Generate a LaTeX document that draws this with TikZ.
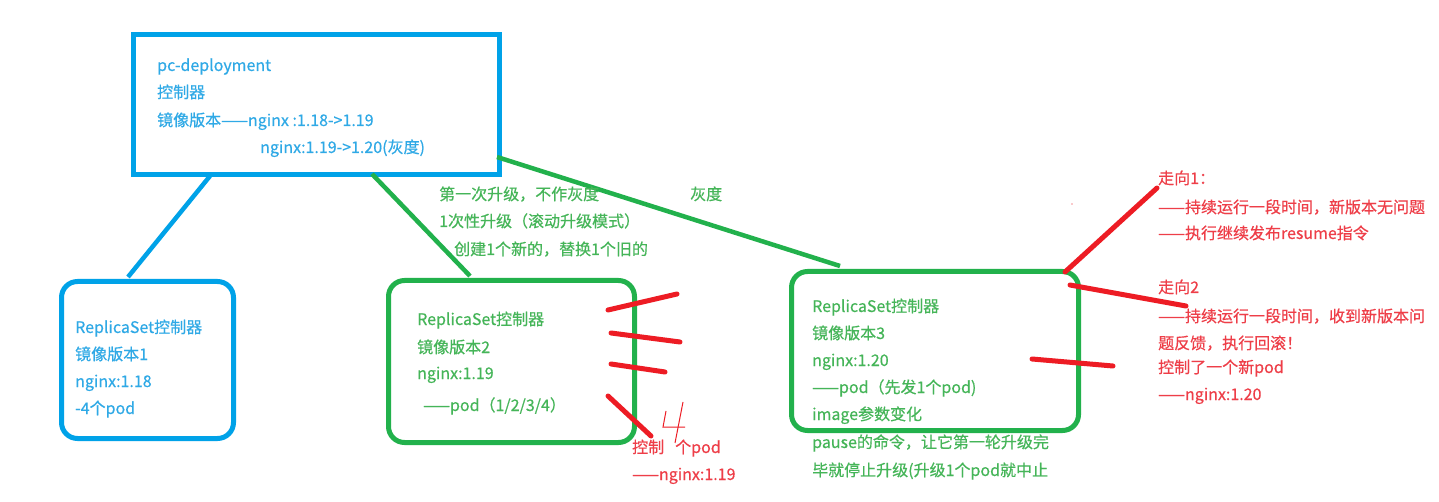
\documentclass[tikz,border=0pt]{standalone}
\usepackage{fontspec}
\setmainfont{Noto Sans CJK SC}[FakeBold=0.5]
\definecolor{bline}{HTML}{00A2E8}
\definecolor{gline}{HTML}{22B14C}
\definecolor{rline}{HTML}{ED1C24}
\definecolor{btext}{HTML}{2FA9E6}
\definecolor{gtext}{HTML}{45B558}
\definecolor{rtext}{HTML}{EE3E48}
\tikzset{
  txt/.style={anchor=base west, inner sep=0pt, font=\fontsize{16}{20}\selectfont},
  bt/.style={txt, text=btext},
  gt/.style={txt, text=gtext},
  rt/.style={txt, text=rtext},
  bbox/.style={draw=bline, line width=5pt},
  gbox/.style={draw=gline, line width=5pt, rounded corners=16pt},
  bcon/.style={draw=bline, line width=4.5pt},
  gcon/.style={draw=gline, line width=4.5pt},
  rmark/.style={draw=rline, line width=5pt, line cap=round},
  rthin/.style={draw=rline, line width=1pt}
}
\begin{document}
\begin{tikzpicture}[x=1pt,y=-1pt]
\useasboundingbox[fill=white] (0,0) rectangle (1439,502);
% boxes
\node[bbox, minimum width=366pt, minimum height=140pt, anchor=north west, inner sep=0pt] (top) at (131,32) {};
\node[bbox, rounded corners=16pt, minimum width=172pt, minimum height=157pt, anchor=north west, inner sep=0pt] (rs1) at (59,279) {};
\node[gbox, minimum width=246pt, minimum height=162pt, anchor=north west, inner sep=0pt] (rs2) at (386,278) {};
\node[gbox, minimum width=287pt, minimum height=159pt, anchor=north west, inner sep=0pt] (rs3) at (789,269) {};
% connector end points
\coordinate (t1) at (210,176);
\coordinate (l1) at (128,277);
\coordinate (t2) at (372,174);
\coordinate (m2) at (470,276);
\coordinate (t3) at (497,157);
\coordinate (r3) at (840,266);
\draw[bcon] (t1) -- (l1);
\draw[gcon] (t2) -- (m2);
\draw[gcon] (t3) -- (r3);
% top box text
\node[bt] (tt1) at (157,71) {pc-deployment};
\node[bt] (tt2) at (157,98) {控制器};
\node[bt] (tt3) at (157,126) {镜像版本——nginx :1.18->1.19};
\node[bt] (tt4) at (260,153) {nginx:1.19->1.20(灰度)};
% left box text
\node[bt] (l1t) at (75,333) {ReplicaSet控制器};
\node[bt] (l2t) at (75,360) {镜像版本1};
\node[bt] (l3t) at (75,387) {nginx:1.18};
\node[bt] (l4t) at (75,414) {-4个pod};
% middle annotations
\node[gt] (a1) at (439,200) {第一次升级，不作灰度};
\node[gt] (a2) at (439,227) {1次性升级（滚动升级模式）};
\node[gt] (a3) at (454,255) {创建1个新的，替换1个旧的};
\node[gt] (a4) at (690,200) {灰度};
% middle box text
\node[gt] (m1t) at (417,325) {ReplicaSet控制器};
\node[gt] (m2t) at (417,353) {镜像版本2};
\node[gt] (m3t) at (417,379) {nginx:1.19};
\node[gt] (m4t) at (423,411) {——pod（1/2/3/4）};
% right box text
\node[gt] (r1t) at (812,312) {ReplicaSet控制器};
\node[gt] (r2t) at (812,339) {镜像版本3};
\node[gt] (r3t) at (812,366) {nginx:1.20};
\node[gt] (r4t) at (812,393) {——pod（先发1个pod)};
\node[gt] (r5t) at (812,420) {image参数变化};
\node[gt] (r6t) at (812,448) {pause的命令，让它第一轮升级完};
\node[gt] (r7t) at (812,476) {毕就停止升级(升级1个pod就中止};
% red marks middle
\coordinate (p1a) at (608,310); \coordinate (p1b) at (677,294);
\coordinate (p2a) at (611,333); \coordinate (p2b) at (680,342);
\coordinate (p3a) at (611,364); \coordinate (p3b) at (665,372);
\coordinate (p4a) at (608,396); \coordinate (p4b) at (651,436);
\draw[rmark] (p1a) -- (p1b);
\draw[rmark] (p2a) -- (p2b);
\draw[rmark] (p3a) -- (p3b);
\draw[rmark] (p4a) -- (p4b);
% handwritten 4
\coordinate (f1) at (666,411); \coordinate (f2) at (663,427); \coordinate (f3) at (685,427);
\coordinate (f4) at (683,402); \coordinate (f5) at (675,443);
\draw[rthin] (f1) -- (f2) -- (f3);
\draw[rthin] (f4) -- (f5);
\node[rt] (c1) at (632,453) {控制};
\node[rt] (c2) at (675,453) {个pod};
\node[rt] (c3) at (632,480) {——nginx:1.19};
% red marks right
\coordinate (q1a) at (1065,272); \coordinate (q1b) at (1157,188);
\coordinate (q2a) at (1070,285); \coordinate (q2b) at (1186,306);
\coordinate (q3a) at (1032,359); \coordinate (q3b) at (1113,366);
\draw[rmark] (q1a) -- (q1b);
\draw[rmark] (q2a) -- (q2b);
\draw[rmark] (q3a) -- (q3b);
\fill[rline] (1072,204) circle (0.7pt);
% right red text
\node[rt] (w1) at (1158,184) {走向1：};
\node[rt] (w2) at (1158,213) {——持续运行一段时间，新版本无问题};
\node[rt] (w3) at (1158,239) {——执行继续发布resume指令};
\node[rt] (w4) at (1158,293) {走向2};
\node[rt] (w5) at (1158,322) {——持续运行一段时间，收到新版本问};
\node[rt] (w6) at (1158,349) {题反馈，执行回滚！};
\node[rt] (w7) at (1158,373) {控制了一个新pod};
\node[rt] (w8) at (1158,400) {——nginx:1.20};
\end{tikzpicture}
\end{document}
